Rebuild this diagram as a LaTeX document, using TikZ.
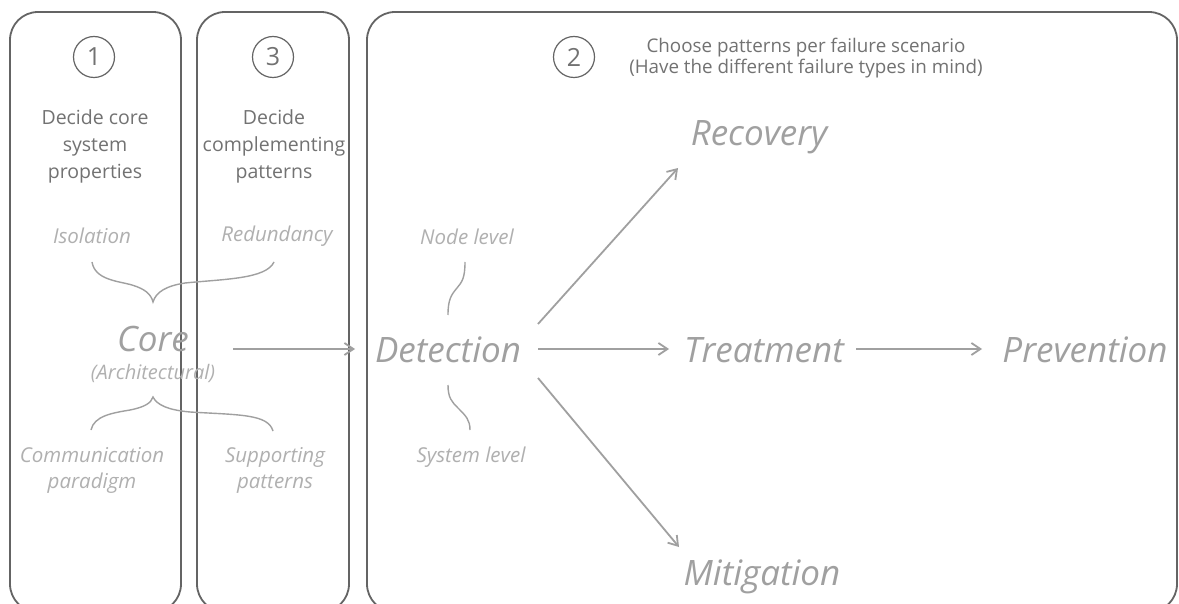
\documentclass[tikz,border=0pt]{standalone}
\usepackage{fontspec}
\setmainfont{Open Sans}
\usetikzlibrary{arrows.meta,calc}
\definecolor{framegray}{HTML}{646464}
\definecolor{headgray}{HTML}{727272}
\definecolor{biggray}{HTML}{A0A0A0}
\definecolor{smallgray}{HTML}{B0B0B0}
\definecolor{linegray}{HTML}{A0A0A0}
\tikzset{
  panel/.style={draw=framegray, line width=1.8pt, rounded corners=28pt},
  numcirc/.style={circle, draw=framegray, line width=1.2pt, minimum size=41pt, inner sep=0pt,
    text=headgray, font=\fontsize{25}{25}\selectfont},
  heading/.style={text=headgray, align=center, inner sep=0pt, font=\fontsize{19.5}{27}\selectfont},
  subhead/.style={text=headgray, align=center, inner sep=0pt, font=\fontsize{18.8}{20.5}\selectfont},
  label/.style={text=smallgray, align=center, inner sep=0pt, font=\itshape\fontsize{20.5}{26}\selectfont},
  bigword/.style={text=biggray, inner sep=0pt, font=\itshape\fontsize{35}{35}\selectfont},
  arr/.style={draw=linegray, line width=1.8pt, -{Straight Barb[length=9pt,width=12pt,line width=1.8pt]}},
  brace/.style={draw=linegray, line width=1.4pt}
}
\begin{document}
\begin{tikzpicture}[x=1pt,y=-1pt]
\useasboundingbox (0,0) rectangle (1179,604);
\fill[white] (0,0) rectangle (1179,604);

% three panels
\draw[panel] (10,12) rectangle (181,612);
\draw[panel] (197,12) rectangle (349,612);
\draw[panel] (367,12) rectangle (1177,612);

% step numbers
\node[numcirc] (n1) at (94,57) {1};
\node[numcirc] (n3) at (273,57) {3};
\node[numcirc] (n2) at (574,57) {2};

% panel headings
\node[heading] (h1) at (95,146) {Decide core\\system\\properties};
\node[heading] (h3) at (274,146) {Decide\\complementing\\patterns};
\node[subhead] (h2) at (806,58) {Choose patterns per failure scenario\\(Have the different failure types in mind)};

% core properties
\node[label] (iso) at (92,236) {Isolation};
\node[label] (red) at (277,236) {Redundancy};
\node[bigword] (core) at (153,339) {Core};
\node[label, font=\itshape\fontsize{20}{26}\selectfont] (arch) at (153,373) {(Architectural)};
\node[label] (comm) at (92,470) {Communication\\paradigm};
\node[label] (supp) at (275,470) {Supporting\\patterns};

% braces joining the properties to the core
\draw[brace] (92,262) .. controls (95,280) and (118,281) .. (132,285)
  .. controls (145,289) and (151,294) .. (153,302)
  .. controls (156,292) and (166,286) .. (185,283)
  .. controls (225,279) and (266,279) .. (274,262);
\draw[brace] (91,430) .. controls (94,416) and (112,413) .. (130,410)
  .. controls (145,407) and (151,403) .. (153,397)
  .. controls (157,405) and (168,410) .. (190,412)
  .. controls (240,415) and (268,414) .. (273,431);

% failure handling flow
\node[bigword] (det) at (448,350) {Detection};
\node[bigword] (rec) at (759,137) {Recovery};
\node[bigword] (trt) at (764,350) {Treatment};
\node[bigword] (prv) at (1085,350) {Prevention};
\node[bigword] (mit) at (762,577) {Mitigation};
\node[label] (nodel) at (467,237) {Node level};
\node[label] (sysl) at (471,457) {System level};

\draw[brace] (465,262) .. controls (465,278) and (462,282) .. (457,288)
  .. controls (451,295) and (448,300) .. (448,315);
\draw[brace] (448,385) .. controls (448,398) and (452,402) .. (458,408)
  .. controls (466,416) and (470,420) .. (470,430);

\coordinate (coreout) at (233,349);
\draw[arr] (coreout) -- ($(det.center)+(-93,-1)$);
\draw[arr] ($(det.center)+(90,-26)$) -- ($(rec.center)+(-81,31)$);
\draw[arr] ($(det.center)+(90,-1)$) -- ($(trt.center)+(-95,-1)$);
\draw[arr] ($(trt.center)+(92,-1)$) -- ($(prv.center)+(-103,-1)$);
\draw[arr] ($(det.center)+(90,28)$) -- ($(mit.center)+(-83,-30)$);
\end{tikzpicture}
\end{document}
